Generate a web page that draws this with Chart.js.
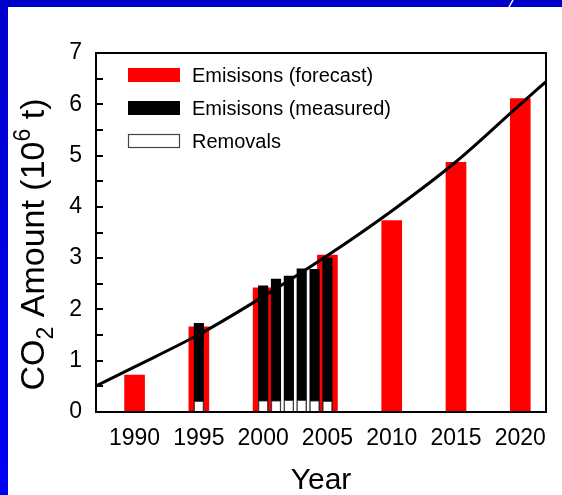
<!DOCTYPE html>
<html>
<head>
<meta charset="utf-8">
<script src="https://cdn.jsdelivr.net/npm/chart.js@4.4.1/dist/chart.umd.min.js"></script>
<style>
  html, body { margin: 0; padding: 0; background: #ffffff; }
  #wrap { width: 562px; height: 495px; position: relative; }
</style>
</head>
<body>
<div id="wrap"><canvas id="co2" width="562" height="495"></canvas></div>
<script>
// CO2 emissions (forecast vs measured), removals and trend, in 10^6 t
const forecastYears   = [1990, 1995, 2000, 2005, 2010, 2015, 2020];
const forecastValues  = [0.72, 1.66, 2.42, 3.06, 3.73, 4.87, 6.11];
const measuredYears   = [1995, 2000, 2001, 2002, 2003, 2004, 2005];
const measuredValues  = [1.73, 2.46, 2.59, 2.65, 2.79, 2.78, 3.00];
const removalValues   = [0.21, 0.22, 0.22, 0.23, 0.23, 0.22, 0.21];
const trendYears      = [1987, 1990, 1995, 2000, 2005, 2010, 2015, 2020, 2022];
const trendValues     = [0.51, 0.88, 1.51, 2.25, 3.05, 3.92, 4.88, 6.00, 6.44];
const xTickYears      = [1990, 1995, 2000, 2005, 2010, 2015, 2020];
const legendLabels    = ['Emisisons (forecast)', 'Emisisons (measured)', 'Removals'];
const yMinorStep      = 0.5;

const FONT = "'Liberation Sans', Arial, Helvetica, sans-serif";
const pts = (xs, ys) => xs.map((x, i) => ({ x, y: ys[i] }));

// page border, plot frame, inward y ticks, legend and y-axis title
const decorations = {
  id: 'decorations',
  beforeDraw(chart) {
    const { ctx, width, height } = chart;
    ctx.save();
    ctx.fillStyle = '#ffffff';
    ctx.fillRect(0, 0, width, height);
    ctx.fillStyle = '#0000cc';
    ctx.fillRect(0, 0, width, 7);
    const g = ctx.createLinearGradient(0, 0, 0, height);
    g.addColorStop(0, '#0000cc');
    g.addColorStop(1, '#0000f4');
    ctx.fillStyle = g;
    ctx.fillRect(0, 0, 8, height);
    ctx.strokeStyle = '#ffffff';
    ctx.lineWidth = 1.5;
    ctx.beginPath();
    ctx.moveTo(509, 7);
    ctx.lineTo(513, 0);
    ctx.stroke();
    ctx.restore();
  },
  afterDraw(chart) {
    const { ctx, chartArea: a, scales } = chart;
    const y = scales.y;
    ctx.save();
    // frame
    ctx.strokeStyle = '#000';
    ctx.lineWidth = 2;
    ctx.strokeRect(a.left, a.top, a.right - a.left, a.bottom - a.top);
    // inward tick marks on the y axis
    ctx.beginPath();
    for (let v = y.min + yMinorStep; v < y.max; v += yMinorStep) {
      const py = Math.round(y.getPixelForValue(v));
      ctx.moveTo(a.left, py);
      ctx.lineTo(a.left + 7, py);
    }
    ctx.stroke();

    // legend
    const ds = chart.data.datasets;
    const entries = [ds[3], ds[2], ds[1]];
    ctx.font = '20px ' + FONT;
    ctx.textBaseline = 'middle';
    ctx.textAlign = 'left';
    entries.forEach((d, i) => {
      const cy = a.top + 22 + i * 33;
      const bx = a.left + 32;
      ctx.fillStyle = d.backgroundColor;
      ctx.fillRect(bx, cy - 7, 52, 14);
      if (d.borderWidth) {
        ctx.strokeStyle = d.borderColor;
        ctx.lineWidth = 1.2;
        ctx.strokeRect(bx + 0.5, cy - 6.5, 51, 13);
      }
      ctx.fillStyle = '#000';
      ctx.fillText(d.label, bx + 64, cy + 1);
    });

    // y-axis title with subscript and superscript
    const main = '34px ' + FONT, small = '23px ' + FONT;
    const parts = [
      { t: 'CO', f: main, dy: 0 },
      { t: '2', f: small, dy: 9 },
      { t: ' Amount (10', f: main, dy: 0 },
      { t: '6', f: small, dy: -14 },
      { t: ' t)', f: main, dy: 0 }
    ];
    let total = 0;
    parts.forEach(p => { ctx.font = p.f; p.w = ctx.measureText(p.t).width; total += p.w; });
    ctx.translate(44, (a.top + a.bottom) / 2 + 12);
    ctx.rotate(-Math.PI / 2);
    ctx.fillStyle = '#000';
    ctx.textBaseline = 'alphabetic';
    let x = -total / 2;
    parts.forEach(p => { ctx.font = p.f; ctx.fillText(p.t, x, p.dy); x += p.w; });
    ctx.restore();
  }
};

new Chart(document.getElementById('co2'), {
  type: 'bar',
  data: {
    datasets: [
      {
        type: 'line', label: 'Trend', data: pts(trendYears, trendValues),
        borderColor: '#000', borderWidth: 3, pointRadius: 0, fill: false,
        cubicInterpolationMode: 'monotone', order: 0
      },
      {
        label: legendLabels[2], data: pts(measuredYears, removalValues),
        backgroundColor: '#ffffff', borderColor: '#444444', borderWidth: 1.2,
        borderSkipped: false, barThickness: 9.5, grouped: false, order: 1
      },
      {
        label: legendLabels[1], data: pts(measuredYears, measuredValues),
        backgroundColor: '#000000', borderWidth: 0, barThickness: 9.5, grouped: false, order: 2
      },
      {
        label: legendLabels[0], data: pts(forecastYears, forecastValues),
        backgroundColor: '#ff0000', borderWidth: 0, barThickness: 20, grouped: false, order: 3
      }
    ]
  },
  options: {
    responsive: false,
    animation: false,
    devicePixelRatio: 1,
    layout: { padding: { top: 53, right: 16, left: 0, bottom: 0 } },
    plugins: { legend: { display: false }, tooltip: { enabled: false } },
    scales: {
      x: {
        type: 'linear', min: 1987, max: 2022, offset: false,
        grid: { display: false, drawTicks: false, offset: false },
        border: { display: false },
        afterBuildTicks: axis => { axis.ticks = xTickYears.map(v => ({ value: v })); },
        afterFit: axis => { axis.height = 83; },
        ticks: { font: { family: FONT, size: 23 }, color: '#000', padding: 13, maxRotation: 0, autoSkip: false,
                 callback: v => String(v) },
        title: { display: true, text: 'Year', color: '#000', font: { family: FONT, size: 30 },
                 padding: { top: 0, bottom: -4 } }
      },
      y: {
        min: 0, max: 7,
        grid: { display: false, drawTicks: false },
        border: { display: false },
        afterFit: axis => { axis.width = 96; },
        ticks: { stepSize: 1, font: { family: FONT, size: 23 }, color: '#000', padding: 14 }
      }
    }
  },
  plugins: [decorations]
});
</script>
</body>
</html>
